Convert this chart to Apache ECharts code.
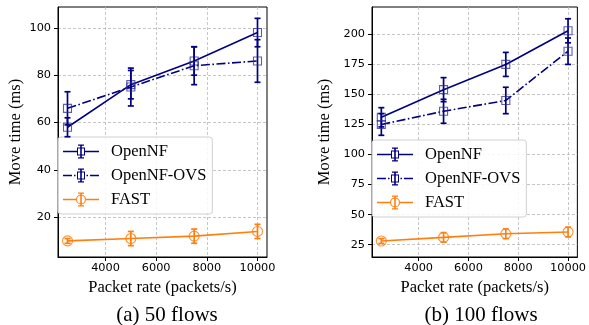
<!DOCTYPE html>
<html>
<head>
<meta charset="utf-8">
<script src="https://cdn.jsdelivr.net/npm/echarts@6/dist/echarts.min.js"></script>
<style>
  html, body { margin: 0; padding: 0; background: #fff; }
  #chart { width: 589px; height: 325px; }
</style>
</head>
<body>
<div id="chart"></div>
<script>
// packet rates (x)
var rates = [2500, 5000, 7500, 10000];
var xTicks = [4000, 6000, 8000, 10000];

// (a) 50 flows
var openNF50 = [58, 76, 86, 98];
var openNF50Err = [4, 6, 6, 6];
var ovs50 = [66, 75, 84, 86];
var ovs50Err = [7, 8, 8, 9];
var fast50 = [10, 11, 12, 14];
var fast50Err = [1, 3, 3, 3];
var yTicks50 = [20, 40, 60, 80, 100];

// (b) 100 flows
var openNF100 = [131, 154, 175, 203];
var openNF100Err = [8, 10, 10, 10];
var ovs100 = [125, 136, 145, 186];
var ovs100Err = [9, 10, 11, 11];
var fast100 = [28, 31, 34, 35.5];
var fast100Err = [2, 4, 4, 4];
var yTicks100 = [25, 50, 75, 100, 125, 150, 175, 200];

var NAVY = '#000080';
var ORANGE = '#ff7f0e';
var SERIF = 'Liberation Serif';
var SANS = 'DejaVu Sans';

function pairs(vals) {
  return rates.map(function (x, i) { return [x, vals[i]]; });
}
function triples(vals, errs) {
  return rates.map(function (x, i) { return [x, vals[i], errs[i]]; });
}

function errRender(marker, edge) {
  return function (params, api) {
    var x = api.value(0), y = api.value(1), e = api.value(2);
    var top = api.coord([x, y + e]);
    var bot = api.coord([x, y - e]);
    var c = api.coord([x, y]);
    var col = api.visual('color');
    var st = { stroke: col, lineWidth: 1.7, fill: null };
    var kids = [
      { type: 'line', shape: { x1: top[0], y1: top[1], x2: bot[0], y2: bot[1] }, style: st },
      { type: 'line', shape: { x1: top[0] - 3, y1: top[1], x2: top[0] + 3, y2: top[1] }, style: st },
      { type: 'line', shape: { x1: bot[0] - 3, y1: bot[1], x2: bot[0] + 3, y2: bot[1] }, style: st }
    ];
    if (marker === 'square') {
      kids.push({ type: 'rect', shape: { x: c[0] - 4, y: c[1] - 4, width: 8, height: 8 },
        style: { stroke: edge, fill: null, lineWidth: 1.1 } });
    } else {
      kids.push({ type: 'circle', shape: { cx: c[0], cy: c[1], r: 5 },
        style: { stroke: edge, fill: null, lineWidth: 1.1 } });
    }
    return { type: 'group', children: kids };
  };
}

// legend icons (line + errorbar + hollow marker)
var sqIcon = 'path://M0,6.2H14V7.8H0Z M22,6.2H36V7.8H22Z M17.2,0H18.8V14H17.2Z M15,0H21V1.2H15Z M15,12.8H21V14H15Z ' +
  'M14,3H22V11H14Z M15,4V10H21V4Z';
var sqDashIcon = 'path://M0,6.2H9V7.8H0Z M11,6.2H12.5V7.8H11Z M23.5,6.2H25V7.8H23.5Z M27,6.2H36V7.8H27Z M17.2,0H18.8V14H17.2Z M15,0H21V1.2H15Z M15,12.8H21V14H15Z ' +
  'M14,3H22V11H14Z M15,4V10H21V4Z';
var circIcon = 'path://M0,6.2H13V7.8H0Z M23,6.2H36V7.8H23Z M17.2,0H18.8V14H17.2Z M15,0H21V1.2H15Z M15,12.8H21V14H15Z ' +
  'M18,2A5,5,0,1,1,18,12A5,5,0,1,1,18,2Z M18,3.1A3.9,3.9,0,1,0,18,10.9A3.9,3.9,0,1,0,18,3.1Z';

function legendAt(left, top) {
  return {
    left: left, top: top, orient: 'vertical',
    itemWidth: 36, itemHeight: 14, itemGap: 7,
    padding: [6, 6, 6, 5],
    backgroundColor: 'rgba(255,255,255,0.85)',
    borderColor: '#d0d0d0', borderWidth: 1, borderRadius: 3,
    selectedMode: false,
    textStyle: { fontFamily: SERIF, fontSize: 16.5, color: '#000', padding: [0, 0, 0, 7] },
    data: [
      { name: 'OpenNF', icon: sqIcon },
      { name: 'OpenNF-OVS', icon: sqDashIcon },
      { name: 'FAST', icon: circIcon }
    ]
  };
}

function plain(v) { return String(v); }

function xAxisFor(gi) {
  return {
    type: 'value', gridIndex: gi, min: 2125, max: 10375,
    name: 'Packet rate (packets/s)', nameLocation: 'middle', nameGap: 21,
    nameTextStyle: { fontFamily: SERIF, fontSize: 16.5, color: '#000' },
    axisLine: { show: true, onZero: false, lineStyle: { color: '#000', width: 1 } },
    axisTick: { show: true, length: 4, customValues: xTicks, lineStyle: { color: '#000' } },
    axisLabel: { customValues: xTicks, formatter: plain, fontFamily: SANS, fontSize: 11.3, color: '#000', margin: 6 },
    splitLine: { show: true, lineStyle: { color: '#b8b8b8', type: [3, 2], width: 0.8 } }
  };
}
function yAxisFor(gi, lo, hi, ticks, gap) {
  return {
    type: 'value', gridIndex: gi, min: lo, max: hi,
    name: 'Move time (ms)', nameLocation: 'middle', nameGap: gap,
    nameTextStyle: { fontFamily: SERIF, fontSize: 16.5, color: '#000' },
    axisLine: { show: true, lineStyle: { color: '#000', width: 1 } },
    axisTick: { show: true, length: 4, customValues: ticks, lineStyle: { color: '#000' } },
    axisLabel: { customValues: ticks, formatter: plain, fontFamily: SANS, fontSize: 11.3, color: '#000', margin: 7 },
    splitLine: { show: true, lineStyle: { color: '#b8b8b8', type: [3, 2], width: 0.8 } }
  };
}

function lineSeries(name, gi, vals, color, dash) {
  return {
    name: name, type: 'line', xAxisIndex: gi, yAxisIndex: gi,
    data: pairs(vals), symbol: 'none', animation: false,
    itemStyle: { color: color },
    lineStyle: { color: color, width: 1.6, type: dash ? [9, 2.5, 1.6, 2.5] : 'solid' },
    z: 3
  };
}
function errSeries(name, gi, vals, errs, color, marker, edge) {
  return {
    name: name, type: 'custom', xAxisIndex: gi, yAxisIndex: gi,
    data: triples(vals, errs), animation: false,
    itemStyle: { color: color },
    renderItem: errRender(marker, edge),
    encode: { x: 0, y: [1, 2] },
    z: 4
  };
}

var navyEdge = 'rgba(40,40,150,0.75)';
var orangeEdge = 'rgba(255,127,14,0.85)';

var chart = echarts.init(document.getElementById('chart'));
chart.setOption({
  animation: false,
  title: [
    { text: '(a) 50 flows', left: 162, top: 300, textAlign: 'center',
      textStyle: { fontFamily: SERIF, fontSize: 21, fontWeight: 'normal', color: '#000' } },
    { text: '(b) 100 flows', left: 476, top: 300, textAlign: 'center',
      textStyle: { fontFamily: SERIF, fontSize: 21, fontWeight: 'normal', color: '#000' } }
  ],
  grid: [
    { left: 58, top: 7, width: 209, height: 250, show: true, borderColor: '#000', borderWidth: 1, backgroundColor: 'transparent' },
    { left: 372, top: 7, width: 208, height: 250, show: true, borderColor: '#000', borderWidth: 1, backgroundColor: 'transparent' }
  ],
  xAxis: [xAxisFor(0), xAxisFor(1)],
  yAxis: [yAxisFor(0, 3.2, 108.8, yTicks50, 34), yAxisFor(1, 14.7, 222.8, yTicks100, 39)],
  legend: [legendAt(58, 137), legendAt(372, 140)],
  series: [
    lineSeries('OpenNF', 0, openNF50, NAVY, false),
    lineSeries('OpenNF-OVS', 0, ovs50, NAVY, true),
    lineSeries('FAST', 0, fast50, ORANGE, false),
    errSeries('OpenNF', 0, openNF50, openNF50Err, NAVY, 'square', navyEdge),
    errSeries('OpenNF-OVS', 0, ovs50, ovs50Err, NAVY, 'square', navyEdge),
    errSeries('FAST', 0, fast50, fast50Err, ORANGE, 'circle', orangeEdge),
    lineSeries('OpenNF', 1, openNF100, NAVY, false),
    lineSeries('OpenNF-OVS', 1, ovs100, NAVY, true),
    lineSeries('FAST', 1, fast100, ORANGE, false),
    errSeries('OpenNF', 1, openNF100, openNF100Err, NAVY, 'square', navyEdge),
    errSeries('OpenNF-OVS', 1, ovs100, ovs100Err, NAVY, 'square', navyEdge),
    errSeries('FAST', 1, fast100, fast100Err, ORANGE, 'circle', orangeEdge)
  ]
});
</script>
</body>
</html>
